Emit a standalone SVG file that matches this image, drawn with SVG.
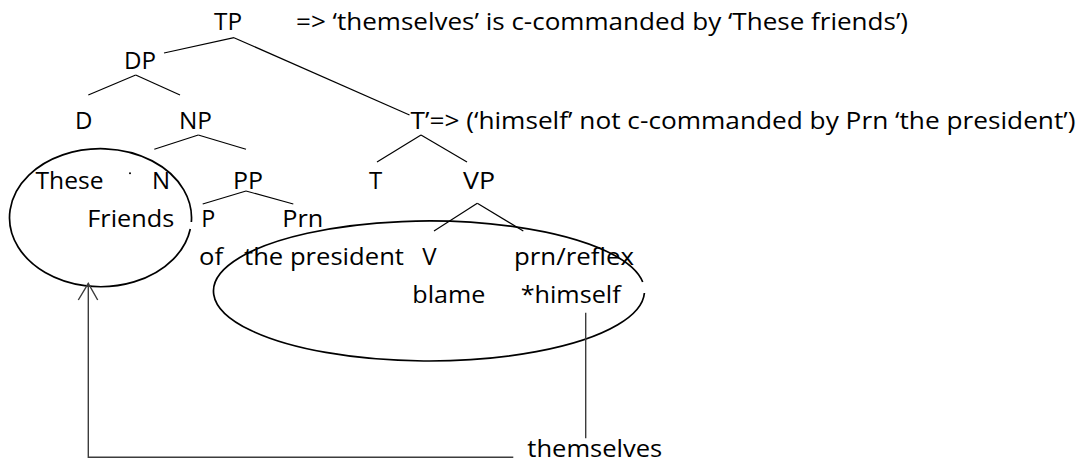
<svg xmlns="http://www.w3.org/2000/svg" width="1083" height="464" viewBox="0 0 1083 464">
<style>
text{font-family:"Open Sans","Noto Sans","Liberation Sans",sans-serif;font-size:24px;fill:#000}
.e{fill:none;stroke:#000;stroke-width:1.7}
.c line{stroke:#000;stroke-width:1.2}
.a{stroke:#3c3c3c;stroke-width:1.4;fill:none}
</style>
<rect width="1083" height="464" fill="#fff"/>
<g id="connectors" class="c">
<line x1="164" y1="53" x2="234" y2="37.7"/>
<line x1="234" y1="37.7" x2="409.5" y2="115"/>
<line x1="135.7" y1="75" x2="88.3" y2="95"/>
<line x1="135.7" y1="75" x2="180" y2="95"/>
<line x1="198.3" y1="135" x2="154.3" y2="149.3"/>
<line x1="198.3" y1="135" x2="246" y2="149.3"/>
<line x1="421" y1="135" x2="377" y2="162"/>
<line x1="421" y1="135" x2="467" y2="162"/>
<line x1="246" y1="191" x2="202.7" y2="204"/>
<line x1="246" y1="191" x2="293.3" y2="204"/>
<line x1="477.3" y1="203.3" x2="434" y2="231"/>
<line x1="477.3" y1="203.3" x2="523.3" y2="231"/>
</g>
<g id="tp"><text x="214" y="29.5" textLength="28" lengthAdjust="spacingAndGlyphs">TP</text></g>
<g id="note1"><text x="296" y="29.5" textLength="612" lengthAdjust="spacingAndGlyphs">=&gt; ‘themselves’ is c-commanded by ‘These friends’)</text></g>
<g id="dp"><text x="124" y="68.5" textLength="32" lengthAdjust="spacingAndGlyphs">DP</text></g>
<g id="d"><text x="75" y="128.5">D</text></g>
<g id="np"><text x="179" y="128.5" textLength="33" lengthAdjust="spacingAndGlyphs">NP</text></g>
<g id="tbar"><text x="410.5" y="128.5" textLength="665" lengthAdjust="spacingAndGlyphs">T’=&gt; (‘himself’ not c-commanded by Prn ‘the president’)</text></g>
<g id="these"><text x="35.5" y="188.5" textLength="68" lengthAdjust="spacingAndGlyphs">These</text><circle cx="130" cy="173.3" r="1" fill="#000"/></g>
<g id="n"><text x="152" y="188.5">N</text></g>
<g id="pp"><text x="233" y="188.5" textLength="30" lengthAdjust="spacingAndGlyphs">PP</text></g>
<g id="t"><text x="369" y="188.5">T</text></g>
<g id="vp"><text x="463" y="188.5" textLength="32" lengthAdjust="spacingAndGlyphs">VP</text></g>
<g id="friends"><text x="87.3" y="226.7" textLength="87" lengthAdjust="spacingAndGlyphs">Friends</text></g>
<g id="p"><text x="201.3" y="226.7" textLength="14" lengthAdjust="spacingAndGlyphs">P</text></g>
<g id="prn"><text x="282.3" y="226.7" textLength="41" lengthAdjust="spacingAndGlyphs">Prn</text></g>
<g id="of"><text x="199" y="265" textLength="24" lengthAdjust="spacingAndGlyphs">of</text></g>
<g id="president"><text x="244" y="265" textLength="160" lengthAdjust="spacingAndGlyphs">the president</text></g>
<g id="v"><text x="422.3" y="265">V</text></g>
<g id="reflex"><text x="514" y="265" textLength="120" lengthAdjust="spacingAndGlyphs">prn/reflex</text></g>
<g id="blame"><text x="412.3" y="303.3" textLength="73" lengthAdjust="spacingAndGlyphs">blame</text></g>
<g id="himself"><text x="520.7" y="303.3" textLength="100" lengthAdjust="spacingAndGlyphs">*himself</text></g>
<g id="themselves"><text x="527.3" y="457.3" textLength="135" lengthAdjust="spacingAndGlyphs">themselves</text></g>
<g id="ellipses">
<path class="e" d="M191.35 222 A91 69 0 1 0 190.3 229"/>
<path class="e" d="M642.7 282 A215.5 70 0 1 0 644.4 293"/>
</g>
<g id="arrows">
<path class="a" d="M585.7 312.7 V438.3"/>
<path class="a" d="M513.3 457.3 H88.3 V283.5"/>
<path class="a" d="M78.3 300 L88.3 283.5 L97.7 300"/>
</g>
</svg>
